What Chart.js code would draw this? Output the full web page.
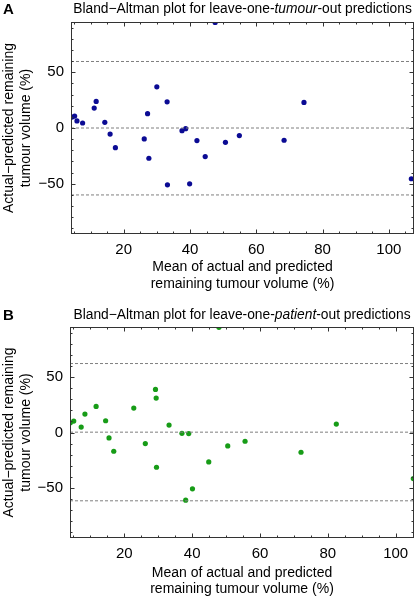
<!DOCTYPE html>
<html>
<head>
<meta charset="utf-8">
<script src="https://cdn.jsdelivr.net/npm/chart.js@4.4.1/dist/chart.umd.min.js"></script>
<style>
  html, body { margin: 0; padding: 0; background: #fff; }
  .panel { position: absolute; left: 0; width: 418px; }
</style>
</head>
<body>
<div class="panel" style="top:0;height:298px"><canvas id="chartA"></canvas></div>
<div class="panel" style="top:298px;height:300px"><canvas id="chartB"></canvas></div>
<script>
// Panel A: leave-one-tumour-out
const meanA = [4.4, 5.2, 5.9, 7.6, 11.1, 11.7, 14.3, 15.9, 17.5, 26.2, 27.2, 27.6, 30.0,
               33.1, 33.2, 37.6, 38.7, 39.9, 42.1, 44.6, 47.6, 50.7, 54.9, 68.4, 74.4, 106.8];
const diffA = [9.8, 10.7, 6.3, 4.5, 17.9, 23.8, 5.1, -5.4, -17.6, -9.8, 12.8, -27.1, 36.9,
               23.5, -50.9, -2.4, -0.6, -50.0, -11.3, -25.6, 94.6, -12.8, -6.8, -11.0, 22.9, -45.5];
const limitsA = [59.6, 0, -60.0];   // upper LoA, bias, lower LoA

// Panel B: leave-one-patient-out
const meanB = [4.1, 5.1, 7.3, 8.4, 11.7, 14.5, 15.5, 16.9, 22.8, 26.2, 29.2, 29.4, 29.5,
               33.2, 37.0, 39.0, 38.1, 40.1, 44.9, 47.9, 50.5, 55.6, 72.1, 82.5, 105.2];
const diffB = [8.8, 10.3, 4.9, 16.6, 23.5, 10.6, -4.9, -16.9, 22.0, -10.0, 38.8, 31.0, -31.3,
               6.7, -0.7, -1.0, -60.9, -50.7, -26.5, 94.7, -12.1, -7.9, -17.8, 7.6, -41.5];
const limitsB = [62.1, 0.3, -61.5];

const xTickValues = [20, 40, 60, 80, 100];
const yTickValues = [-50, 0, 50];

const FONT = "'Liberation Sans', Arial, sans-serif";

function toPoints(xs, ys) {
  return xs.map((x, i) => ({ x: x, y: ys[i] }));
}

// frame with inward ticks on all four sides + text decorations
const framePlugin = {
  id: 'frame',
  afterDraw(chart, args, opts) {
    const ctx = chart.ctx;
    const a = chart.chartArea;
    const xs = chart.scales.x, ys = chart.scales.y;
    ctx.save();
    ctx.strokeStyle = '#333';
    ctx.lineWidth = 1;
    ctx.strokeRect(a.left + 0.5, a.top + 0.5, a.right - a.left - 1, a.bottom - a.top - 1);
    ctx.beginPath();
    for (let v = Math.ceil(xs.min / 5) * 5; v <= xs.max; v += 5) {
      const px = Math.round(xs.getPixelForValue(v)) + 0.5;
      const len = v % 20 === 0 ? 4.5 : 2.5;
      ctx.moveTo(px, a.bottom); ctx.lineTo(px, a.bottom - len);
      ctx.moveTo(px, a.top); ctx.lineTo(px, a.top + len);
    }
    for (let v = Math.ceil(ys.min / 10) * 10; v <= ys.max; v += 10) {
      const py = Math.round(ys.getPixelForValue(v)) + 0.5;
      const len = v % 50 === 0 ? 4.5 : 2.5;
      ctx.moveTo(a.left, py); ctx.lineTo(a.left + len, py);
      ctx.moveTo(a.right, py); ctx.lineTo(a.right - len, py);
    }
    ctx.stroke();

    ctx.fillStyle = '#000';
    // panel letter
    ctx.font = 'bold 15px ' + FONT;
    ctx.textAlign = 'left';
    ctx.textBaseline = 'middle';
    ctx.fillText(opts.letter, 3, opts.titleY + 1);

    // title with italic word
    const parts = [
      ['Bland\u2212Altman plot for leave-one-', '13.8px ' + FONT],
      [opts.italic, 'italic 13.8px ' + FONT],
      ['-out predictions', '13.8px ' + FONT]
    ];
    let total = 0;
    parts.forEach(p => { ctx.font = p[1]; total += ctx.measureText(p[0]).width; });
    let tx = (a.left + a.right) / 2 - total / 2;
    parts.forEach(p => {
      ctx.font = p[1];
      ctx.fillText(p[0], tx, opts.titleY);
      tx += ctx.measureText(p[0]).width;
    });

    // x axis title
    ctx.font = '14px ' + FONT;
    ctx.textAlign = 'center';
    const cx = (a.left + a.right) / 2;
    ctx.fillText('Mean of actual and predicted', cx, a.bottom + opts.xTitleOff);
    ctx.fillText('remaining tumour volume (%)', cx, a.bottom + opts.xTitleOff + 16.5);

    // y axis title
    ctx.translate(0, (a.top + a.bottom) / 2);
    ctx.rotate(-Math.PI / 2);
    ctx.fillText('Actual\u2212predicted remaining', 0, 9);
    ctx.fillText('tumour volume (%)', 0, 26);
    ctx.restore();
  }
};

function makeChart(id, meanVals, diffVals, limits, color, cfg) {
  const dashed = limits.map(v => ({
    type: 'line',
    data: [{ x: cfg.xMin, y: v }, { x: cfg.xMax, y: v }],
    borderColor: '#7f7f7f',
    borderWidth: 1,
    borderDash: [3, 2],
    pointRadius: 0,
    fill: false
  }));
  return new Chart(document.getElementById(id).getContext('2d'), {
    type: 'scatter',
    data: {
      datasets: dashed.concat([{
        data: toPoints(meanVals, diffVals),
        backgroundColor: color,
        borderColor: color,
        pointRadius: 2.6,
        borderWidth: 0
      }])
    },
    options: {
      responsive: true,
      maintainAspectRatio: false,
      animation: false,
      layout: { padding: { top: cfg.top, right: cfg.right, left: 0, bottom: 0 } },
      plugins: {
        legend: { display: false },
        tooltip: { enabled: false },
        frame: cfg.frame
      },
      scales: {
        x: {
          type: 'linear',
          min: cfg.xMin,
          max: cfg.xMax,
          grid: { display: false, drawTicks: false },
          border: { display: false },
          afterBuildTicks: s => { s.ticks = xTickValues.map(v => ({ value: v })); },
          afterFit: s => { s.height = cfg.xAxisH; },
          ticks: { padding: 7, color: '#000', font: { family: FONT, size: 15 }, maxRotation: 0 }
        },
        y: {
          type: 'linear',
          min: -95,
          max: 95,
          grid: { display: false, drawTicks: false },
          border: { display: false },
          afterBuildTicks: s => { s.ticks = yTickValues.map(v => ({ value: v })); },
          afterFit: s => { s.width = cfg.yAxisW; },
          ticks: {
            padding: 7, color: '#000', font: { family: FONT, size: 15 },
            callback: v => (v < 0 ? '\u2212' + Math.abs(v) : String(v))
          }
        }
      }
    },
    plugins: [framePlugin]
  });
}

makeChart('chartA', meanA, diffA, limitsA, '#0b0b94', {
  xMin: 4.1, xMax: 107.6, top: 22, right: 2, xAxisH: 64, yAxisW: 71,
  frame: { letter: 'A', italic: 'tumour', titleY: 9, xTitleOff: 33.5 }
});

makeChart('chartB', meanB, diffB, limitsB, '#179c17', {
  xMin: 4.0, xMax: 105.4, top: 29, right: 1, xAxisH: 60, yAxisW: 70,
  frame: { letter: 'B', italic: 'patient', titleY: 17, xTitleOff: 35 }
});
</script>
</body>
</html>
